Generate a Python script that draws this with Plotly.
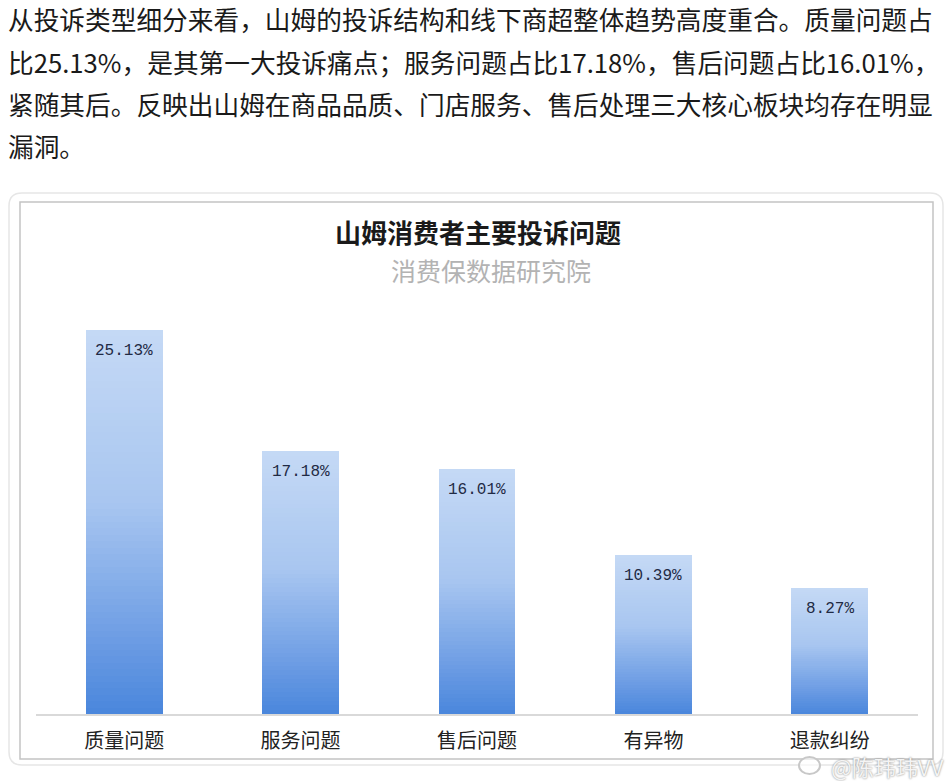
import plotly.graph_objects as go

# ---- data ----
categories = ["质量问题", "服务问题", "售后问题", "有异物", "退款纠纷"]
shares = [25.13, 17.18, 16.01, 10.39, 8.27]
value_labels = ["25.13%", "17.18%", "16.01%", "10.39%", "8.27%"]
title_text = "山姆消费者主要投诉问题"
subtitle_text = "消费保数据研究院"
paragraph_lines = [
    "从投诉类型细分来看，山姆的投诉结构和线下商超整体趋势高度重合。质量问题占",
    "比25.13%，是其第一大投诉痛点；服务问题占比17.18%，售后问题占比16.01%，",
    "紧随其后。反映出山姆在商品品质、门店服务、售后处理三大核心板块均存在明显",
    "漏洞。",
]
watermark = "@陈玮玮VV"

W, H = 950, 781


def px(x):
    return x / W


def py(y):
    return 1 - y / H


# gradient stops (t=0 bottom, t=1 top)
stops = [(0.0, (74, 134, 220)), (0.25, (118, 163, 230)), (0.55, (168, 198, 240)), (1.0, (197, 217, 245))]


def grad(t):
    for (t0, c0), (t1, c1) in zip(stops[:-1], stops[1:]):
        if t0 <= t <= t1:
            f = (t - t0) / (t1 - t0)
            return "rgb(%d,%d,%d)" % tuple(round(a + (b - a) * f) for a, b in zip(c0, c1))
    return "rgb(%d,%d,%d)" % stops[-1][1]


N = 60
fig = go.Figure()
for i in range(N):
    fig.add_trace(go.Bar(
        x=categories,
        y=[v / N for v in shares],
        marker=dict(color=grad((i + 0.5) / N), line=dict(width=0)),
        hoverinfo="skip",
        showlegend=False,
    ))

# value labels inside bars near the top
for c, v, lab in zip(categories, shares, value_labels):
    fig.add_annotation(x=c, y=v, xref="x", yref="y", text=lab, showarrow=False,
                       yanchor="middle", yshift=-21,
                       font=dict(family="Liberation Mono, DejaVu Sans Mono, monospace", size=16, color="#1f2a44"))

shapes = []
# outer card (rounded)
x0, y0, x1, y1, r = 9, 193, 943, 765, 13
path = (f"M {px(x0+r)} {py(y0)} L {px(x1-r)} {py(y0)} Q {px(x1)} {py(y0)} {px(x1)} {py(y0+r)} "
        f"L {px(x1)} {py(y1-r)} Q {px(x1)} {py(y1)} {px(x1-r)} {py(y1)} "
        f"L {px(x0+r)} {py(y1)} Q {px(x0)} {py(y1)} {px(x0)} {py(y1-r)} "
        f"L {px(x0)} {py(y0+r)} Q {px(x0)} {py(y0)} {px(x0+r)} {py(y0)} Z")
shapes.append(dict(type="path", path=path, xref="paper", yref="paper",
                   line=dict(color="#e6e6e6", width=1.5), fillcolor="white", layer="below"))
# inner image border
shapes.append(dict(type="rect", xref="paper", yref="paper", x0=px(20), x1=px(933), y0=py(759), y1=py(202),
                   line=dict(color="#c4c4c4", width=1.5), layer="below"))
# weibo logo approximation
shapes.append(dict(type="circle", xref="paper", yref="paper", x0=px(799), x1=px(820), y0=py(774), y1=py(757),
                   line=dict(color="#c8c8c8", width=2), fillcolor="rgba(255,255,255,0.6)"))

annotations = []
line_y = [19, 62, 104, 146]
for t, yy in zip(paragraph_lines, line_y):
    annotations.append(dict(x=px(6), y=py(yy), xref="paper", yref="paper", text=t, showarrow=False,
                            xanchor="left", yanchor="middle",
                            font=dict(family="Noto Sans CJK SC", size=25.7, color="#1a1a1a")))
annotations.append(dict(x=px(478), y=py(231), xref="paper", yref="paper", text="<b>" + title_text + "</b>",
                        showarrow=False, xanchor="center", yanchor="middle",
                        font=dict(family="Noto Sans CJK SC", size=26, color="#1a1a1a")))
annotations.append(dict(x=px(491), y=py(270), xref="paper", yref="paper", text=subtitle_text,
                        showarrow=False, xanchor="center", yanchor="middle",
                        font=dict(family="Noto Sans CJK SC", size=25, color="#b3b3b3")))
annotations.append(dict(x=px(946), y=py(766), xref="paper", yref="paper", text=watermark,
                        showarrow=False, xanchor="right", yanchor="middle",
                        font=dict(family="Noto Sans CJK SC", size=22, color="#f4f4f4",
                                  shadow="0px 0px 2px #777")))

fig.update_layout(
    width=W, height=H,
    margin=dict(l=0, r=0, t=0, b=0),
    paper_bgcolor="white", plot_bgcolor="rgba(0,0,0,0)",
    barmode="stack", bargap=0.564,
    showlegend=False,
    shapes=shapes,
    xaxis=dict(domain=[px(36), px(918)], showline=True, linecolor="#d9d9d9", linewidth=1.5,
               showgrid=False, zeroline=False, ticks="", ticklabelstandoff=8,
               tickfont=dict(family="Noto Sans CJK SC", size=20, color="#222222"), fixedrange=True),
    yaxis=dict(domain=[py(714), py(300)], range=[0, 414 / 15.28], visible=False, fixedrange=True),
)
for a in annotations:
    fig.add_annotation(**a)

fig.write_html("out.html")
